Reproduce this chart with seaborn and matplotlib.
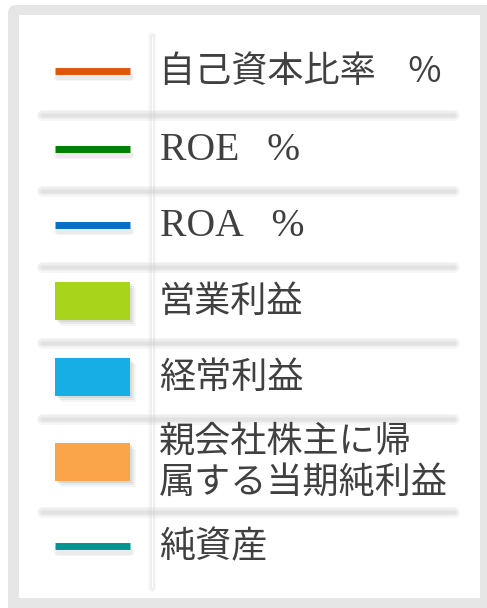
import numpy as np
import matplotlib
matplotlib.use("Agg")
import matplotlib.pyplot as plt
import matplotlib.patches as mpatches
import seaborn as sns

# legend entries
labels = ["自己資本比率    %", "ROE\u2002\u2009%", "ROA\u2002\u2009%", "営業利益", "経常利益",
          "親会社株主に帰\n属する当期純利益", "純資産"]
kinds = ["line", "line", "line", "bar", "bar", "bar", "line"]
colors = ["#E0560F", "#008000", "#0A6FC4", "#A8D51C", "#17AEE6", "#FBA54A", "#00968F"]
serif_rows = [False, True, True, False, False, False, False]
row_heights = [80, 76, 76, 76, 76, 93, 76]

sns.set_theme(style="white")
plt.rcParams['font.family'] = ['Noto Sans CJK JP', 'DejaVu Sans']

W, H = 487, 608
fig = plt.figure(figsize=(W / 100, H / 100), dpi=100)
ax = fig.add_axes([0, 0, 1, 1])
ax.set_xlim(0, W)
ax.set_ylim(H, 0)
ax.axis("off")

# frame
ax.add_patch(mpatches.FancyBboxPatch((8, 5), W, H, boxstyle="round,pad=0,rounding_size=8",
                                     fc="#E6E6E6", ec="none"))
ax.add_patch(mpatches.Rectangle((19, 15), 461, 583, fc="white", ec="none"))


def soft_line(xs, ys, widths=(9, 6, 3), alpha=0.18, color="#C8C8C8"):
    for w in widths:
        ax.plot(xs, ys, color=color, lw=w * 0.72, alpha=alpha, solid_capstyle="round")


# vertical divider
soft_line([152, 152], [36, 588], widths=(8, 5, 3), alpha=0.12)
ax.plot([152, 152], [36, 588], color="white", lw=0.8, solid_capstyle="butt")

top = 34
edges = top + np.concatenate([[0], np.cumsum(row_heights)])
centers = (edges[:-1] + edges[1:]) / 2

# horizontal separators
for y in edges[1:-1]:
    soft_line([42, 454], [y + 1, y + 1], widths=(11, 8, 5, 3), alpha=0.16)

for lab, kind, col, serif, yc in zip(labels, kinds, colors, serif_rows, centers):
    yc = yc - 3
    if kind == "line":
        soft_line([58, 130], [yc + 6, yc + 6], widths=(8, 5), alpha=0.2)
        ax.plot([55, 130], [yc, yc], color=col, lw=5, solid_capstyle="butt")
    else:
        for d, a in [(6, 0.10), (4, 0.15), (2, 0.2)]:
            ax.add_patch(mpatches.Rectangle((55 + d, yc - 19 + d), 75, 38, fc="#A0A0A0",
                                            ec="none", alpha=a))
        ax.add_patch(mpatches.Rectangle((55, yc - 19), 75, 38, fc=col, ec="none"))
    if serif:
        ax.text(160, yc + 2, lab, family=['Liberation Serif', 'DejaVu Serif'], fontsize=28.5,
                color="#404040", va="center", ha="left")
    else:
        ax.text(159, yc + 1, lab, family=['Noto Sans CJK JP', 'DejaVu Sans'], fontsize=26,
                color="#404040", va="center", ha="left", linespacing=1.18)

fig.savefig("out.png", dpi=100)
